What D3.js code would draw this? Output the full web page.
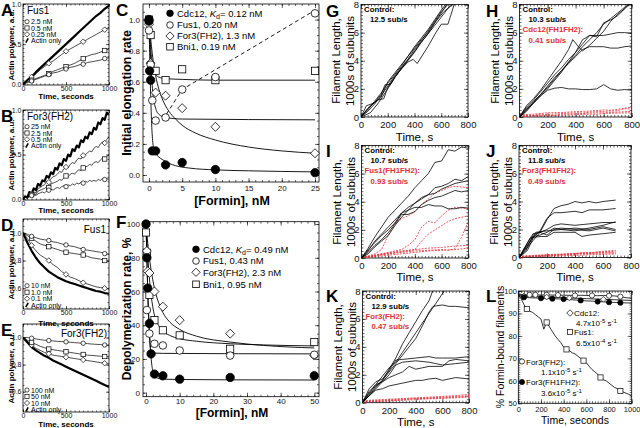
<!DOCTYPE html>
<html><head><meta charset="utf-8">
<script src="https://cdn.jsdelivr.net/npm/d3@7/dist/d3.min.js"></script>
<style>html,body{margin:0;padding:0;background:#fff;}svg{display:block;}</style>
</head><body>
<svg id="fig" width="640" height="428"></svg>
<script>
// ================= DATA =================
// Panels A,B,D,E : time courses
const timeA = [0,50,100,150,200,250,300,350,400,450,500,550,600,650,700,750,800,850,900,950,1000];
const timeB = [0,25,50,75,100,125,150,175,200,225,250,275,300,325,350,375,400,425,450,475,500,525,550,575,600,625,650,675,700,725,750,775,800,825,850,875,900,925,950,975,1000];
// A: Fus1 elongation
const A_actin = [0,0.05,0.09,0.15,0.20,0.25,0.30,0.35,0.40,0.45,0.50,0.55,0.60,0.65,0.70,0.75,0.80,0.85,0.89,0.94,0.98];
const A_025 = [0,0.05,0.09,0.13,0.18,0.22,0.26,0.29,0.33,0.37,0.41,0.44,0.47,0.50,0.53,0.56,0.59,0.62,0.65,0.68,0.71];
const A_05  = [0,0.03,0.05,0.07,0.09,0.11,0.13,0.16,0.18,0.20,0.22,0.24,0.26,0.29,0.32,0.35,0.37,0.38,0.40,0.42,0.44];
const A_25  = [0,0.02,0.04,0.06,0.08,0.10,0.12,0.14,0.15,0.17,0.19,0.21,0.22,0.24,0.25,0.27,0.28,0.29,0.30,0.32,0.33];
// B: For3(FH2) elongation
const B_actin = [0,0.03,0.02,0.08,0.06,0.12,0.10,0.17,0.15,0.21,0.20,0.26,0.24,0.30,0.28,0.35,0.33,0.40,0.38,0.45,0.43,0.50,0.48,0.56,0.54,0.60,0.58,0.66,0.64,0.70,0.68,0.75,0.73,0.80,0.78,0.86,0.84,0.91,0.89,0.97,0.95];
const B_05  = [0,0.03,0.01,0.05,0.06,0.08,0.07,0.12,0.13,0.15,0.16,0.20,0.19,0.23,0.25,0.26,0.28,0.31,0.30,0.34,0.36,0.35,0.39,0.41,0.40,0.44,0.46,0.45,0.49,0.50,0.52,0.54,0.53,0.57,0.59,0.58,0.62,0.64,0.63,0.67,0.70];
const B_25  = [0,0.02,0.01,0.04,0.05,0.06,0.05,0.09,0.10,0.11,0.12,0.14,0.13,0.17,0.18,0.19,0.20,0.22,0.21,0.24,0.26,0.25,0.28,0.29,0.28,0.31,0.33,0.32,0.35,0.36,0.37,0.39,0.38,0.41,0.42,0.41,0.44,0.46,0.45,0.48,0.50];
const B_250 = [0,0.02,0.01,0.03,0.04,0.05,0.04,0.06,0.07,0.08,0.07,0.09,0.10,0.11,0.10,0.12,0.13,0.12,0.14,0.15,0.14,0.16,0.15,0.17,0.16,0.18,0.17,0.19,0.18,0.20,0.19,0.21,0.20,0.21,0.20,0.22,0.21,0.23,0.22,0.23,0.22];
// D: Fus1 depolymerization
const D_actin = [1.0,0.93,0.87,0.82,0.78,0.75,0.72,0.70,0.68,0.665,0.65,0.64,0.63,0.62,0.61,0.60,0.59,0.58,0.575,0.565,0.56];
const D_01 = [1.0,0.96,0.91,0.87,0.84,0.82,0.80,0.77,0.75,0.72,0.70,0.68,0.67,0.655,0.64,0.63,0.62,0.61,0.605,0.60,0.595];
const D_1  = [1.0,0.98,0.96,0.94,0.92,0.91,0.90,0.89,0.88,0.87,0.86,0.855,0.85,0.845,0.84,0.83,0.82,0.815,0.81,0.80,0.795];
const D_10 = [1.0,0.99,0.975,0.965,0.955,0.95,0.945,0.935,0.93,0.92,0.913,0.905,0.90,0.89,0.88,0.875,0.87,0.865,0.86,0.85,0.845];
// E: For3(FH2) depolymerization
const E_actin = [1.0,0.965,0.93,0.905,0.885,0.865,0.85,0.83,0.815,0.80,0.785,0.77,0.755,0.74,0.725,0.71,0.695,0.68,0.665,0.65,0.635];
const E_100 = [1.0,1.0,0.995,0.99,0.985,0.98,0.978,0.975,0.972,0.97,0.968,0.965,0.962,0.96,0.958,0.955,0.952,0.95,0.948,0.945,0.94];
const E_50  = [1.0,0.98,0.965,0.95,0.935,0.925,0.915,0.91,0.905,0.90,0.895,0.89,0.885,0.88,0.875,0.87,0.868,0.865,0.862,0.86,0.858];
const E_10  = [1.0,0.97,0.945,0.92,0.905,0.89,0.88,0.87,0.865,0.86,0.855,0.85,0.845,0.84,0.835,0.83,0.825,0.82,0.815,0.81,0.805];
const markIdxA = [2,6,10,14,19];
const markIdxB = [4,12,20,28,38];

// C: initial elongation rate vs [Formin]
const C_cdc12_x = [0,0,0.1,0.25,0.5,1,2.5,5,10,25];
const C_cdc12_y = [1.0,0.99,0.67,0.61,0.155,0.155,0.065,0.08,0.035,0.015];
const C_fus1_x = [0,0.25,0.5,1,2.5,5,10,25];
const C_fus1_y = [0.93,0.71,0.48,0.35,0.37,0.55,0.63,1.04];
const C_for3_x = [0,0.25,1,2.5,5,10,25];
const C_for3_y = [0.97,0.72,0.53,0.51,0.43,0.31,0.14];
const C_bni1_x = [0,0.25,1,2.5,5,10,25];
const C_bni1_y = [1.0,0.9,0.67,0.61,0.68,0.61,0.67];
const C_fit_cdc12 = [[0,1.0],[0.2,0.6],[0.4,0.33],[0.6,0.2],[0.8,0.16],[1,0.14],[1.5,0.115],[2,0.1],[3,0.075],[4,0.06],[6,0.045],[10,0.033],[15,0.027],[25,0.02]];
const C_fit_fus1 = [[0,1.0],[0.3,0.7],[0.6,0.52],[1,0.43],[1.5,0.39],[2.5,0.37],[5,0.36],[25,0.355]];
const C_fit_for3 = [[0,1.0],[0.25,0.88],[0.5,0.78],[1,0.64],[1.5,0.55],[2,0.49],[3,0.41],[4,0.36],[5,0.32],[7,0.27],[10,0.225],[15,0.18],[20,0.155],[25,0.14]];
const C_fit_bni1 = [[0,1.0],[0.25,0.82],[0.5,0.72],[0.75,0.67],[1,0.645],[1.5,0.63],[2.5,0.62],[5,0.615],[10,0.61],[25,0.61]];
const C_dash_fus1 = [[2.6,0.39],[5,0.55],[25,1.06]];
const C_legend = ["Cdc12, ", "Fus1, 0.20 nM", "For3(FH2), 1.3 nM", "Bni1, 0.19 nM"];

// F: depolymerization rate vs [Formin]
const F_cdc12_x = [0,0.25,0.5,1,1.5,2.5,5,10,25,50];
const F_cdc12_y = [100,80,62,41,23,11,10,8,9,10];
const F_fus1_x = [0.25,1,2.5,5,10,25,50];
const F_fus1_y = [49,35,29,28,25,22,22.5];
const F_for3_x = [0.25,0.5,1,2.5,5,10,25,50];
const F_for3_y = [84,72,71,60,51,43,35,22];
const F_bni1_x = [0,0.25,1,2.5,5,10,25,50];
const F_bni1_y = [95,83,58,43,37,34,26,30];
const F_fit_cdc12 = [[0,100],[0.25,80],[0.5,62],[0.75,48],[1,37],[1.25,28],[1.5,21],[1.75,16],[2,13],[2.5,10],[3,9],[5,8],[10,7.8],[25,7.6],[50,7.5]];
const F_fit_fus1 = [[0,100],[0.25,80],[0.5,60],[0.75,45],[1,34],[1.25,27],[1.5,24.5],[2,23.5],[5,23.3],[50,23]];
const F_fit_bni1 = [[0,100],[0.5,82],[1,68],[1.5,58],[2,51],[2.5,46],[3,43],[4,39],[5,36.5],[7,34],[10,32],[15,30.5],[25,29],[35,28.3],[50,27.7]];
const F_fit_for3 = [[0,100],[0.5,89],[1,80],[1.5,73],[2,67],[2.5,62],[3,58],[4,52],[5,47.5],[7,42],[10,37.5],[15,33.5],[25,30],[35,28],[50,26.5]];
const F_legend = ["Cdc12, ", "Fus1, 0.43 nM", "For3(FH2), 2.3 nM", "Bni1, 0.95 nM"];

// G-K: filament length traces [time s, length 1000s subunits]
const G_ctrl = [
 [[0,0],[50,0.5],[100,1.1],[150,1.7],[200,2.4],[250,3.0],[300,3.6],[350,4.3],[400,4.9],[450,5.5],[500,6.0],[550,6.7],[600,7.4],[650,8.1]],
 [[0,0],[40,0.8],[100,1.0],[150,1.4],[200,2.5],[250,3.1],[300,3.7],[350,4.3],[400,5.0],[450,5.6],[500,6.2],[550,6.9],[600,7.6],[640,8.1]],
 [[0,0],[50,0.4],[100,0.9],[150,1.5],[200,2.2],[250,2.9],[300,3.5],[350,4.1],[400,4.8],[450,5.4],[500,6.1],[550,6.8],[600,7.5],[660,8.1]],
 [[0,0],[60,0.7],[120,1.2],[170,1.3],[200,2.1],[250,2.8],[300,3.4],[350,3.9],[390,4.1],[420,3.8],[500,5.0],[560,6.0],[600,6.6],[650,6.6],[700,8.1]],
 [[0,0],[50,0.6],[100,1.0],[150,1.6],[180,2.3],[220,2.3],[250,2.8],[300,3.4],[350,4.0],[400,4.6],[450,5.3],[500,5.9],[550,6.5],[600,7.1],[680,8.1]],
 [[0,0],[70,0.3],[130,1.0],[200,2.0],[260,2.9],[320,3.7],[380,4.4],[440,5.2],[500,5.9],[560,6.8],[620,7.5],[700,8.1]]
];
const H_ctrl = [
 [[0,0],[50,0.5],[100,1.1],[150,1.6],[200,2.2],[250,2.8],[300,3.3],[350,3.9],[400,4.4],[450,5.0],[500,5.5],[550,6.0],[600,6.6],[650,7.0],[700,7.4],[750,7.8],[800,8.2]],
 [[0,0],[50,0.6],[100,1.0],[150,1.5],[200,2.0],[250,2.6],[300,3.2],[350,3.9],[400,4.6],[450,5.5],[500,5.8],[550,5.7],[600,6.7],[650,6.9],[700,7.2],[750,7.7],[800,8.2]],
 [[0,0],[50,0.7],[100,1.2],[150,1.8],[200,2.4],[250,3.0],[300,3.5],[350,4.1],[400,4.6],[450,5.2],[500,5.8],[550,5.8],[600,5.8],[650,5.9],[700,6.0],[750,6.0],[800,5.95]],
 [[0,0],[50,0.4],[100,1.0],[150,1.6],[200,2.1],[250,2.7],[300,3.3],[350,3.8],[400,4.3],[450,4.8],[500,5.0],[550,5.0],[600,5.0],[650,4.9],[700,4.9],[750,5.0],[800,5.05]],
 [[0,0],[50,0.5],[100,1.0],[150,1.5],[200,1.9],[250,2.05],[300,2.1],[350,2.0],[400,2.0],[450,1.95],[500,1.95],[550,2.0],[600,2.3],[650,2.0],[700,1.9],[750,1.95],[800,1.9]],
 [[0,0],[50,0.8],[100,1.3],[150,1.9],[200,2.6],[250,3.3],[300,4.0],[350,4.8],[380,5.5],[420,5.0],[450,4.7],[500,5.1],[550,5.6],[600,6.1],[650,6.8],[700,7.3],[750,7.7],[800,8.2]]
];
const H_red = [
 [[0,0.1],[100,0.12],[150,0.2],[200,0.18],[300,0.25],[400,0.3],[450,0.28],[500,0.35],[600,0.4],[700,0.45],[750,0.6],[800,0.55]],
 [[0,0.05],[100,0.1],[200,0.15],[250,0.12],[300,0.2],[400,0.22],[500,0.28],[600,0.3],[700,0.35],[800,0.4]],
 [[0,0],[100,0.05],[200,0.08],[300,0.12],[400,0.16],[500,0.2],[550,0.18],[600,0.25],[700,0.28],[800,0.3]],
 [[0,0.15],[100,0.2],[200,0.3],[300,0.32],[400,0.38],[500,0.42],[600,0.5],[650,0.48],[700,0.55],[800,0.7]]
];
const I_ctrl = [
 [[0,0],[50,0.7],[100,1.5],[150,2.2],[200,2.9],[250,3.4],[300,3.9],[350,4.4],[400,5.0],[450,5.5],[500,6.0],[550,6.8],[600,6.9],[650,7.7],[700,7.6],[750,7.9],[800,7.8]],
 [[0,0],[50,0.5],[100,1.2],[150,1.7],[200,2.2],[250,2.7],[300,3.2],[350,3.6],[400,3.9],[450,4.3],[500,4.5],[550,5.0],[600,5.1],[650,5.3],[700,5.6],[750,5.5],[800,5.8]],
 [[0,0],[50,0.4],[100,0.9],[150,1.3],[200,1.8],[250,2.4],[300,3.1],[350,3.1],[400,3.3],[450,3.8],[500,4.1],[550,4.3],[600,4.4],[650,4.6],[700,4.8],[750,4.7],[800,4.8]],
 [[0,0],[50,0.6],[100,1.1],[150,1.6],[200,2.0],[250,2.5],[300,3.2],[350,3.4],[400,3.6],[450,3.6],[500,3.8],[550,3.7],[600,3.7],[650,3.5],[700,3.5],[750,3.6],[800,3.55]],
 [[0,0],[50,0.3],[100,0.8],[150,1.2],[200,1.6],[250,2.3],[300,2.9],[350,3.4],[400,3.9],[450,4.2],[500,4.5],[550,4.6],[600,4.9],[650,5.1],[700,5.3],[750,5.4],[800,5.5]]
];
const I_red = [
 [[0,0],[50,0.15],[100,0.3],[150,0.6],[200,1.6],[250,2.5],[300,2.8],[350,3.0],[400,3.3],[450,3.8],[500,4.2],[550,4.6],[600,4.8],[650,5.0],[700,5.1],[800,5.0]],
 [[0,0],[100,0.2],[200,0.4],[300,0.6],[350,0.9],[400,1.3],[450,2.2],[500,2.6],[550,2.5],[600,3.0],[650,3.4],[700,3.6],[800,3.5]],
 [[0,0],[100,0.15],[200,0.3],[300,0.45],[400,0.6],[450,1.2],[500,1.7],[550,2.0],[600,2.3],[650,2.6],[700,2.8],[800,3.0]],
 [[0,0],[100,0.2],[200,0.35],[300,0.5],[400,0.6],[500,0.7],[600,0.75],[700,0.85],[800,0.9]],
 [[0,0],[100,0.15],[200,0.3],[300,0.4],[400,0.5],[500,0.55],[600,0.6],[650,0.55],[700,0.65],[750,1.5],[800,2.6]],
 [[0,0.05],[100,0.1],[200,0.2],[300,0.3],[400,0.4],[500,0.5],[600,0.55],[700,0.6],[800,0.7]]
];
const J_ctrl = [
 [[0,0],[50,0.6],[100,1.2],[150,1.8],[200,2.7],[250,3.5],[300,3.7],[350,3.8],[400,4.0],[450,3.9],[500,4.0],[550,3.9],[600,4.0],[690,4.1]],
 [[0,0],[100,1.4],[150,1.9],[200,2.8],[250,3.2],[300,3.2],[400,3.3],[450,3.2],[500,3.4],[600,3.4],[690,3.5]],
 [[0,0],[50,0.5],[100,1.6],[150,1.8],[200,2.0],[250,2.3],[300,2.4],[400,2.3],[500,2.4],[600,2.5],[690,2.5]],
 [[0,0],[100,1.5],[150,1.6],[200,1.8],[250,2.1],[300,2.0],[400,1.9],[500,2.1],[600,2.3],[690,2.55]],
 [[0,0],[100,1.7],[150,1.8],[200,1.6],[250,2.0],[300,2.1],[400,2.0],[500,1.9],[600,2.1],[690,1.9]],
 [[0,0],[80,1.4],[150,1.5],[200,1.5],[250,1.8],[300,1.8],[400,1.8],[450,1.5],[500,1.6],[600,1.7],[690,1.8]],
 [[0,0],[60,0.5],[120,1.8],[200,1.9],[300,2.0],[400,2.1],[500,2.0],[600,2.2],[690,2.0]]
];
const J_red = [
 [[0,0],[100,0.1],[200,0.15],[300,0.2],[400,0.3],[500,0.35],[600,0.4],[690,0.45]],
 [[0,0.05],[100,0.15],[200,0.2],[300,0.25],[400,0.28],[500,0.3],[600,0.35],[690,0.3]],
 [[0,0.1],[100,0.1],[200,0.18],[300,0.2],[400,0.25],[450,0.35],[500,0.3],[600,0.45],[690,0.5]],
 [[0,0],[100,0.05],[200,0.08],[300,0.12],[400,0.15],[500,0.2],[600,0.22],[690,0.25]],
 [[0,0.05],[150,0.1],[250,0.15],[350,0.2],[450,0.25],[550,0.3],[690,0.35]]
];
const K_ctrl = [
 [[0,0],[50,0.6],[100,1.2],[150,1.6],[200,2.4],[250,3.2],[300,4.2],[350,5.0],[400,5.8],[450,6.6],[500,7.3],[530,8.1]],
 [[0,0],[50,0.7],[100,1.3],[150,1.9],[200,2.5],[250,2.9],[300,3.6],[350,4.3],[400,5.0],[450,5.7],[500,6.4],[550,7.1],[600,7.8],[620,8.1]],
 [[0,0],[50,0.5],[100,1.1],[150,1.6],[200,2.2],[250,2.8],[300,3.4],[350,4.0],[400,4.6],[450,5.5],[500,6.5],[530,6.9],[600,7.0],[650,6.9],[700,6.9],[800,6.8]],
 [[0,0],[50,1.0],[100,1.5],[150,1.7],[200,2.3],[250,3.05],[300,3.1],[400,3.2],[500,3.3],[550,3.2],[600,3.2],[700,3.2],[800,3.3]],
 [[0,0],[50,0.5],[100,1.0],[150,1.5],[200,2.0],[250,2.7],[300,2.9],[400,3.0],[500,2.9],[550,2.8],[600,2.7],[700,2.8],[800,2.9]],
 [[0,0],[50,0.8],[100,1.3],[150,1.5],[200,1.8],[250,2.0],[300,2.2],[350,2.6],[400,2.4],[450,2.5],[500,2.6],[600,2.6],[650,3.0],[700,3.1],[800,3.0]],
 [[0,0],[50,0.5],[100,0.9],[150,1.0],[200,1.2],[300,1.4],[400,1.6],[450,1.6],[500,1.7],[550,1.75],[600,1.6],[700,1.8],[800,1.7]]
];
const K_red = [
 [[0,0.1],[100,0.15],[200,0.2],[300,0.25],[400,0.3],[500,0.35],[600,0.4],[700,0.45],[800,0.5]],
 [[0,0],[100,0.08],[200,0.12],[300,0.18],[400,0.22],[500,0.28],[600,0.3],[700,0.35],[800,0.4]],
 [[0,0.05],[100,0.1],[200,0.15],[300,0.2],[400,0.3],[500,0.3],[600,0.35],[700,0.4],[800,0.45]],
 [[0,0.15],[100,0.2],[200,0.25],[300,0.3],[400,0.35],[500,0.4],[600,0.45],[700,0.5],[800,0.6]]
];
const rateLabels = {
 G:["Control:","12.5 sub/s",null,null],
 H:["Control:","10.3 sub/s","Cdc12(FH1FH2):","0.41 sub/s"],
 I:["Control:","10.7 sub/s","Fus1(FH1FH2):","0.93 sub/s"],
 J:["Control:","11.8 sub/s","For3(FH1FH2):","0.49 sub/s"],
 K:["Control:","12.9 sub/s","For3(FH2):","0.47 sub/s"]
};
// L: % formin-bound filaments
const L_t = [0,50,100,150,200,250,300,350,400,450,500,550,600,650,700,750,800,850,900,950,1000];
const L_for3fh2 = [98.5,98.4,98.3,98.3,98.2,98.3,98.2,98.2,98.1,98.1,98.0,98.1,98.0,98.0,97.9,98.0,97.9,97.8,97.5,97.0,96.8];
const L_cdc12 = [98,97.8,97.6,97.5,97.4,97.3,97.2,97.1,97.0,96.9,96.8,96.7,96.6,96.5,96.4,96.3,96.2,96.1,96.0,95.9,95.8];
const L_for3fh1fh2 = [97.5,97.2,97.0,96.9,96.8,96.7,96.6,96.5,96.4,96.2,96.0,95.8,95.6,95.5,95.3,95.2,95.0,94.9,94.8,94.7,94.6];
const L_t25 = timeB;
const L_fus1 = [98.5,96.5,94,92,91,90.5,89.5,88.5,87.5,83,86,84,82,80,78.5,77,75,74,73.5,72.5,72,71,70,69,68,66.5,65,64,63,61.5,60.5,60,59,58,57,56.5,55.5,55,54.5,54,53];
const L_mk_circ = [2,3,5,7,10,13,16,18];
const L_mk_fill = [1,4,6,8,11,14,16,18];
const L_mk_diam = [1,5,9,15];
const L_mk_sq = [3,10,17,23,29,36];
const L_legend = [["diamond","Cdc12:","4.7x10","-5"],["square","Fus1:","6.5x10","-4"],["circle","For3(FH2):","1.1x10","-5"],["filled","For3(FH1FH2):","3.6x10","-5"]];

// ================= DRAWING =================
const svg = d3.select("#fig");
const FONT = "'Liberation Sans', Arial, Helvetica, sans-serif";
const RED = "#e0313b";
let clipN = 0;
const zip = (xs, ys) => xs.map((v,i)=>[v, ys[i]]);

function panel(o){
  const x = d3.scaleLinear().domain(o.xd).range(o.xr);
  const y = d3.scaleLinear().domain(o.yd).range(o.yr);
  const g = svg.append("g");
  const L=o.xr[0], R=o.xr[1], B=o.yr[0], T=o.yr[1];
  const cid = "clip"+(clipN++);
  g.append("clipPath").attr("id",cid).append("rect").attr("x",L).attr("y",T).attr("width",R-L).attr("height",B-T);
  const style = s => { s.select(".domain").remove();
    s.selectAll(".tick line").attr("stroke","#000").attr("stroke-width",0.6);
    s.selectAll(".tick text").attr("font-family",FONT).attr("font-size",o.tf).attr("fill","#111"); };
  const add = (axis,tx,ty) => g.append("g").attr("transform",`translate(${tx},${ty})`).call(axis).call(style);
  const M=o.maj||4, m=o.min||2, none=()=>"";
  add(d3.axisBottom(x).tickValues(o.xt).tickSize(-M).tickPadding(o.xp).tickFormat(o.xf),0,B);
  add(d3.axisBottom(x).tickValues(o.xm).tickSize(-m).tickFormat(none),0,B);
  add(d3.axisTop(x).tickValues(o.xt).tickSize(-M).tickFormat(none),0,T);
  add(d3.axisTop(x).tickValues(o.xm).tickSize(-m).tickFormat(none),0,T);
  add(d3.axisLeft(y).tickValues(o.yt).tickSize(-M).tickPadding(o.yp).tickFormat(o.yf),L,0);
  add(d3.axisLeft(y).tickValues(o.ym).tickSize(-m).tickFormat(none),L,0);
  add(d3.axisRight(y).tickValues(o.yt).tickSize(-M).tickFormat(none),R,0);
  add(d3.axisRight(y).tickValues(o.ym).tickSize(-m).tickFormat(none),R,0);
  g.append("rect").attr("x",L).attr("y",T).attr("width",R-L).attr("height",B-T)
    .attr("fill","none").attr("stroke","#000").attr("stroke-width",0.8);
  const plot = g.append("g").attr("clip-path",`url(#${cid})`);
  const over = g.append("g");
  return {x,y,g,plot,over};
}
function line(p, pts, o={}){
  p.plot.append("path").datum(pts)
    .attr("d", d3.line().x(d=>p.x(d[0])).y(d=>p.y(d[1])).curve(o.curve||d3.curveLinear))
    .attr("fill","none").attr("stroke",o.color||"#000").attr("stroke-width",o.w||0.8)
    .attr("stroke-dasharray",o.dash||null).attr("stroke-linejoin","round");
}
function marker(sel, type, cx, cy, r, sw){
  sw = sw||0.8;
  if(type==="circle"||type==="filled"){
    sel.append("circle").attr("cx",cx).attr("cy",cy).attr("r",r)
      .attr("fill",type==="filled"?"#000":"#fff").attr("stroke","#000").attr("stroke-width",sw);
  } else if(type==="square"){
    sel.append("rect").attr("x",cx-r).attr("y",cy-r).attr("width",2*r).attr("height",2*r)
      .attr("fill","#fff").attr("stroke","#000").attr("stroke-width",sw);
  } else if(type==="diamond"){
    const d=r*1.25;
    sel.append("path").attr("d",`M${cx},${cy-d}L${cx+d},${cy}L${cx},${cy+d}L${cx-d},${cy}Z`)
      .attr("fill","#fff").attr("stroke","#000").attr("stroke-width",sw);
  }
}
function points(p, pts, type, r, sw){ pts.forEach(d=>marker(p.over,type,p.x(d[0]),p.y(d[1]),r,sw)); }
function text(s,x,y,o={}){
  const t = svg.append("text").attr("x",x).attr("y",y).text(s)
    .attr("font-family",FONT).attr("font-size",o.size||9).attr("font-weight",o.bold?"bold":"normal")
    .attr("fill",o.color||"#000").attr("text-anchor",o.anchor||"start");
  if(o.rot) t.attr("transform",`rotate(-90,${x},${y})`);
  return t;
}
function letter(s,x,y){ text(s,x,y,{size:17,bold:true}); }

// ---- A, B, D, E ----
const fmt1 = d3.format(".1f"), fmtD = d3.format("d");
function timePanel(yr, yd, yt, ym){
  return panel({xd:[0,1000],xr:[23,109],yd:yd,yr:yr,xt:[0,500,1000],yt:yt,
    xm:d3.range(0,1001,50),ym:ym,xf:fmtD,yf:fmt1,tf:7,xp:1.5,yp:1.5,maj:3,min:1.5});
}
function timeSeries(p, ts, vals, type, idx){
  line(p, zip(ts, vals), {w:0.7});
  idx.forEach(i=>marker(p.over,type,p.x(ts[i]),p.y(vals[i]),2.2,0.7));
}
function legendA(x0, ys, labels){
  const types=["circle","square","diamond"];
  labels.forEach((lab,i)=>{
    if(i<3) marker(svg,types[i],x0,ys[i],2.1,0.7);
    else svg.append("line").attr("x1",x0-1.2).attr("y1",ys[i]+2.2).attr("x2",x0+1.2).attr("y2",ys[i]-2.2).attr("stroke","#000").attr("stroke-width",1.6);
    text(lab,x0+4,ys[i]+2.5,{size:7});
  });
}
const pA = timePanel([85,4],[-0.01,1.0],[0,0.5,1.0],d3.range(0,1.001,0.05));
line(pA, zip(timeA,A_actin), {w:2.2});
timeSeries(pA,timeA,A_025,"diamond",markIdxA);
timeSeries(pA,timeA,A_05,"square",markIdxA);
timeSeries(pA,timeA,A_25,"circle",markIdxA);
text("Fus1",27,14,{size:10});
legendA(27,[21.7,28,34.3,40.5],["2.5 nM","0.5 nM","0.25 nM","Actin only"]);

const pB = timePanel([200,110],[-0.01,1.0],[0,0.5,1.0],d3.range(0,1.001,0.05));
line(pB, zip(timeB,B_actin), {w:2.2});
timeSeries(pB,timeB,B_05,"diamond",markIdxB);
timeSeries(pB,timeB,B_25,"square",markIdxB);
timeSeries(pB,timeB,B_250,"circle",markIdxB);
text("For3(FH2)",27,120,{size:10});
legendA(27,[126.7,133,139.3,145.5],["25 nM","2.5 nM","0.5 nM","Actin only"]);

const pD = timePanel([309,219],[0.45,1.1],[0.6,0.8,1.0],d3.range(0.5,1.1,0.05));
line(pD, zip(timeA,D_actin), {w:2.2});
timeSeries(pD,timeA,D_01,"diamond",markIdxA);
timeSeries(pD,timeA,D_1,"square",markIdxA);
timeSeries(pD,timeA,D_10,"circle",markIdxA);
text("Fus1",106,233,{size:10,anchor:"end"});
legendA(27,[285.7,292.2,298.7,305],["10 nM","1.0 nM","0.1 nM","Actin only"]);

const pE = timePanel([412,324],[0.45,1.1],[0.6,0.8,1.0],d3.range(0.5,1.1,0.05));
line(pE, zip(timeA,E_actin), {w:2.2});
timeSeries(pE,timeA,E_10,"diamond",markIdxA);
timeSeries(pE,timeA,E_50,"square",markIdxA);
timeSeries(pE,timeA,E_100,"circle",markIdxA);
text("For3(FH2)",107,337,{size:10,anchor:"end"});
legendA(27,[390,396.5,403,409.5],["100 nM","50 nM","10 nM","Actin only"]);

[[45,"A",99],[155,"B",213],[264,"D",326],[368,"E",427]].forEach(([cy,l,ty])=>{
  text("Actin polymer, a.u.",13.5,cy,{size:8,bold:true,rot:true,anchor:"middle"});
  text("Time, seconds",66,ty,{size:8,bold:true,anchor:"middle"});
});
letter("A",1,16); letter("B",1,122); letter("D",1,231); letter("E",1,336);

// ---- C ----
const pC = panel({xd:[-0.9,25.6],xr:[143,319],yd:[-0.045,1.1],yr:[182,4],xt:[0,5,10,15,20,25],
  yt:[0,0.2,0.4,0.6,0.8,1.0],xm:d3.range(0,25.1,1),ym:d3.range(0,1.1,0.05),xf:fmtD,yf:fmt1,tf:8,xp:3,yp:3,maj:4,min:2});
[C_fit_cdc12,C_fit_fus1,C_fit_for3,C_fit_bni1].forEach(f=>line(pC,f,{w:0.9,curve:d3.curveMonotoneX}));
line(pC, C_dash_fus1, {w:0.9,dash:"4,3"});
points(pC, zip(C_bni1_x,C_bni1_y),"square",3.6,0.8);
points(pC, zip(C_for3_x,C_for3_y),"diamond",3.6,0.8);
points(pC, zip(C_fus1_x,C_fus1_y),"circle",3.8,0.8);
points(pC, zip(C_cdc12_x,C_cdc12_y),"filled",4.2,0.8);
function kdLegend(x0, ys, labels, kd){
  const types=["filled","circle","diamond","square"];
  labels.forEach((lab,i)=>{
    marker(svg,types[i],x0,ys[i],3.3,0.8);
    const t=text("",x0+7,ys[i]+3.3,{size:9.5});
    if(i===0){
      t.append("tspan").text(lab);
      t.append("tspan").attr("font-style","italic").text("K");
      t.append("tspan").attr("dy",2).attr("font-size",7).text("d");
      t.append("tspan").attr("dy",-2).text("= "+kd);
    } else t.text(lab);
  });
}
kdLegend(170,[13.3,25,36,46.7],C_legend,"0.12 nM");
text("Initial elongation rate",131,93,{size:12.5,bold:true,rot:true,anchor:"middle"});
text("[Formin], nM",232,205,{size:12.5,bold:true,anchor:"middle"});
letter("C",116,16);

// ---- F ----
const pF = panel({xd:[-0.9,51.4],xr:[143,319],yd:[-2.4,101.4],yr:[396.7,221.7],xt:[0,10,20,30,40,50],
  yt:[0,20,40,60,80,100],xm:d3.range(0,51,2),ym:d3.range(0,101,5),xf:fmtD,yf:fmtD,tf:8,xp:1.5,yp:3,maj:4,min:2});
[F_fit_cdc12,F_fit_fus1,F_fit_bni1,F_fit_for3].forEach(f=>line(pF,f,{w:0.9,curve:d3.curveMonotoneX}));
points(pF, zip(F_bni1_x,F_bni1_y),"square",3.6,0.8);
points(pF, zip(F_for3_x,F_for3_y),"diamond",3.6,0.8);
points(pF, zip(F_fus1_x,F_fus1_y),"circle",3.8,0.8);
points(pF, zip(F_cdc12_x,F_cdc12_y),"filled",4.2,0.8);
kdLegend(196,[249.3,261,272.3,284.3],F_legend,"0.49 nM");
text("Depolymerization rate, %",131,309,{size:12,bold:true,rot:true,anchor:"middle"});
text("[Formin], nM",232,416.5,{size:12,bold:true,anchor:"middle"});
letter("F",116,228);

// ---- G-K ----
function lenPanel(xr, yr){
  return panel({xd:[0,800],xr:xr,yd:[0,8],yr:yr,xt:[0,200,400,600,800],yt:[0,2,4,6,8],
    xm:d3.range(0,801,25),ym:d3.range(0,8.01,0.25),xf:fmtD,yf:fmtD,tf:9.5,xp:4.5,yp:2,maj:4,min:2});
}
function lenTitles(p, cy, xTitleY){
  const L=p.x.range()[0];
  text("Filament Length,",L-21,cy,{size:11.5,rot:true,anchor:"middle"});
  text("1000s of subunits",L-7,cy,{size:11.5,rot:true,anchor:"middle"});
  text("Time, s",(p.x.range()[0]+p.x.range()[1])/2,xTitleY,{size:11.5,anchor:"middle"});
}
function rates(p, labs){
  const L=p.x.range()[0], T=p.y.range()[1];
  labs.forEach((s,i)=>{ if(!s) return;
    text(s, L+(i%2===0?3:9), T+7.5+i*10.2, {size:7.8,bold:true,color:i<2?"#000":RED}); });
}
function traces(p, ctrl, red){
  (red||[]).forEach(tr=>line(p,tr,{w:0.8,color:RED,dash:"2,1.2"}));
  ctrl.forEach(tr=>line(p,tr,{w:0.8}));
}
const pG = lenPanel([361,468],[117,4.5]); traces(pG,G_ctrl,null); lenTitles(pG,61,141); rates(pG,rateLabels.G);
const pH = lenPanel([519.5,631.7],[117,4.5]); traces(pH,H_ctrl,H_red); lenTitles(pH,61,141); rates(pH,rateLabels.H);
const pI = lenPanel([361.5,468.3],[258,145.5]); traces(pI,I_ctrl,I_red); lenTitles(pI,202,281); rates(pI,rateLabels.I);
const pJ = lenPanel([519,631],[257.5,145.5]); traces(pJ,J_ctrl,J_red); lenTitles(pJ,202,281); rates(pJ,rateLabels.J);
const pK = lenPanel([362.5,469],[402.7,291]); traces(pK,K_ctrl,K_red); lenTitles(pK,347,426); rates(pK,rateLabels.K);
letter("G",326,17); letter("H",486,17); letter("I",326,157); letter("J",486,157); letter("K",326,302); letter("L",486,302);

// ---- L ----
const pL = panel({xd:[0,1000],xr:[518.3,631.7],yd:[50,100],yr:[403.3,291],xt:[0,200,400,600,800,1000],
  yt:[50,60,70,80,90,100],xm:d3.range(0,1001,25),ym:d3.range(50,100.1,1),xf:fmtD,yf:fmtD,tf:7.5,xp:3.5,yp:1.5,maj:4,min:2});
line(pL, zip(L_t,L_for3fh2), {w:0.8});
line(pL, zip(L_t,L_cdc12), {w:0.8});
line(pL, zip(L_t,L_for3fh1fh2), {w:0.8});
line(pL, zip(L_t25,L_fus1), {w:0.8});
L_mk_sq.forEach(i=>marker(pL.over,"square",pL.x(L_t25[i]),pL.y(L_fus1[i]),2.6,0.7));
L_mk_circ.forEach(i=>marker(pL.over,"circle",pL.x(L_t[i]),pL.y(L_for3fh2[i]),2.6,0.7));
L_mk_diam.forEach(i=>marker(pL.over,"diamond",pL.x(L_t[i]),pL.y(L_cdc12[i]),2.3,0.7));
L_mk_fill.forEach(i=>marker(pL.over,"filled",pL.x(L_t[i]),pL.y(L_for3fh1fh2[i]),2.6,0.7));
const legPos = [[570,313,576,326],[570,332,576,345.5],[522,361.5,541,375],[522,382,541,396]];
L_legend.forEach((d,i)=>{
  const [mx,my,tx,ty]=legPos[i];
  marker(svg,d[0],mx,my,2.6,0.7);
  text(d[1],mx+4,my+3,{size:8});
  const t=text("",tx,ty,{size:8});
  t.append("tspan").text(d[2]);
  t.append("tspan").attr("dy",-3).attr("font-size",6).text(d[3]);
  t.append("tspan").attr("dy",3).text(" s");
  t.append("tspan").attr("dy",-3).attr("font-size",6).text("-1");
});
text("% Formin-bound filaments",504,347,{size:10.5,rot:true,anchor:"middle"});
text("Time, seconds",575,424,{size:10.5,anchor:"middle"});
</script>
</body></html>
